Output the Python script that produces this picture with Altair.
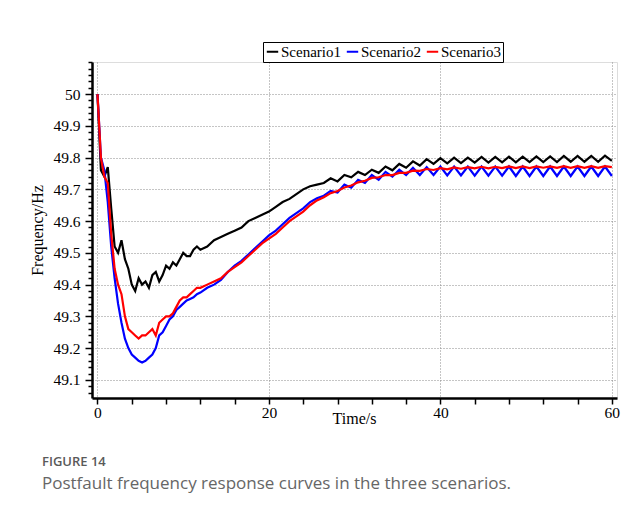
import altair as alt
import pandas as pd

# time axis (s)
time_s = [
    0.0, 0.4, 0.8, 1.2, 1.6, 2.0, 2.4, 2.8, 3.2, 3.6, 4.0, 4.4, 4.8, 5.2, 5.6, 6.0,
    6.4, 6.8, 7.2, 7.6, 8.0, 8.4, 8.8, 9.2, 9.6, 10.0, 10.4, 10.8, 11.2, 11.6, 12.0,
    12.8, 13.6, 14.4, 15.2, 16.0, 16.8, 17.6, 18.4, 19.2, 20.0, 20.8, 21.6, 22.4,
    23.2, 24.0, 24.8, 25.6, 26.4,
    27.2, 28.0, 28.8, 29.6, 30.4, 31.2, 32.0, 32.8, 33.6, 34.4, 35.2, 36.0, 36.8,
    37.6, 38.4, 39.2, 40.0, 40.8, 41.6, 42.4, 43.2, 44.0, 44.8, 45.6, 46.4, 47.2,
    48.0, 48.8, 49.6, 50.4, 51.2, 52.0, 52.8, 53.6, 54.4, 55.2, 56.0, 56.8, 57.6,
    58.4, 59.2, 60.0,
]

scenario1 = [
    50.0, 49.76, 49.74, 49.77, 49.64, 49.52, 49.50, 49.54, 49.48, 49.45, 49.40, 49.38,
    49.42, 49.40, 49.41, 49.39, 49.43, 49.44, 49.41, 49.43, 49.46, 49.45, 49.47, 49.46,
    49.48, 49.50, 49.49, 49.49, 49.51, 49.52, 49.51,
    49.52, 49.54, 49.55, 49.56, 49.57, 49.58, 49.60, 49.61, 49.62, 49.63, 49.645,
    49.66, 49.67, 49.685, 49.70, 49.71, 49.715, 49.72,
    49.735, 49.725, 49.745, 49.738, 49.755, 49.745, 49.762, 49.752, 49.772, 49.76,
    49.78, 49.768, 49.788, 49.775, 49.795, 49.78, 49.798, 49.782, 49.80, 49.783,
    49.80, 49.784, 49.802, 49.784, 49.802, 49.785, 49.803, 49.785, 49.803, 49.786,
    49.804, 49.786, 49.804, 49.786, 49.805, 49.787, 49.805, 49.787, 49.805, 49.787,
    49.806, 49.79,
]

scenario2 = [
    50.0, 49.80, 49.76, 49.66, 49.52, 49.42, 49.34, 49.28, 49.23, 49.20, 49.18, 49.17,
    49.16, 49.155, 49.16, 49.17, 49.18, 49.20, 49.24, 49.25, 49.27, 49.29, 49.30, 49.32,
    49.33, 49.34, 49.35, 49.355, 49.36, 49.37, 49.375,
    49.39, 49.40, 49.415, 49.44, 49.46, 49.475, 49.495, 49.515, 49.535, 49.555, 49.57,
    49.59, 49.61, 49.625, 49.64, 49.66, 49.672, 49.68,
    49.695, 49.69, 49.715, 49.705, 49.73, 49.72, 49.745, 49.73, 49.755, 49.74,
    49.762, 49.745, 49.768, 49.745, 49.77, 49.745, 49.772, 49.744, 49.772, 49.744,
    49.772, 49.743, 49.772, 49.743, 49.772, 49.743, 49.772, 49.742, 49.772, 49.742,
    49.772, 49.742, 49.772, 49.742, 49.772, 49.742, 49.772, 49.742, 49.772, 49.742,
    49.772, 49.742,
]

scenario3 = [
    50.0, 49.80, 49.74, 49.72, 49.56, 49.45, 49.40, 49.37, 49.30, 49.26, 49.25, 49.24,
    49.23, 49.24, 49.24, 49.25, 49.26, 49.24, 49.28, 49.29, 49.30, 49.30, 49.31, 49.33,
    49.35, 49.36, 49.36, 49.37, 49.38, 49.39, 49.39,
    49.40, 49.41, 49.42, 49.44, 49.455, 49.47, 49.49, 49.51, 49.53, 49.545, 49.56,
    49.58, 49.60, 49.615, 49.63, 49.65, 49.665, 49.675,
    49.688, 49.695, 49.706, 49.712, 49.722, 49.727, 49.736, 49.738, 49.745, 49.745,
    49.752, 49.752, 49.759, 49.758, 49.764, 49.761, 49.767, 49.763, 49.769, 49.765,
    49.77, 49.766, 49.771, 49.766, 49.771, 49.767, 49.772, 49.767, 49.772, 49.767,
    49.772, 49.768, 49.772, 49.768, 49.773, 49.768, 49.773, 49.768, 49.773, 49.768,
    49.773, 49.77,
]

series_names = ["Scenario1", "Scenario2", "Scenario3"]
series_colors = ["#000000", "#0000ff", "#ff0000"]

x_ticks = [0, 4, 8, 12, 16, 20, 24, 28, 32, 36, 40, 44, 48, 52, 56, 60]
y_ticks = [round(49.06 + 0.02 * i, 2) for i in range(53)]

rows = []
for name, vals in zip(series_names, [scenario1, scenario2, scenario3]):
    for t, v in zip(time_s, vals):
        rows.append({"t": t, "f": v, "series": name})
df = pd.DataFrame(rows)

serif = "Liberation Serif"

x_axis = alt.Axis(
    values=x_ticks,
    labelExpr="datum.value % 20 == 0 ? datum.value : ''",
    title="Time/s",
    titleFont=serif, titleFontSize=16, titleFontWeight="normal", titleColor="black",
    titleBaseline="top", titleY=12, titleX=262,
    labelFont=serif, labelFontSize=15.5, labelColor="black", labelPadding=1,
    labelFlush=False,
    tickSize=6, tickWidth=1.5, tickColor="black",
    domainColor="black", domainWidth=2.5,
    grid=True, gridColor="#8a8a8a", gridDash=[1, 2], gridWidth=1,
    gridOpacity={"condition": {"test": "datum.value % 20 == 0", "value": 1}, "value": 0},
)

major_test = "abs(datum.value*10 - round(datum.value*10)) < 0.001 && datum.value < 50.05"
y_axis = alt.Axis(
    values=y_ticks,
    labelExpr=f"({major_test}) ? toString(round(datum.value*10)/10) : ''",
    title="Frequency/Hz",
    titleFont=serif, titleFontSize=16, titleFontWeight="normal", titleColor="black",
    titleX=-55, titleY=168, titleBaseline="middle", titleAngle=270,
    labelFont=serif, labelFontSize=15.5, labelColor="black", labelPadding=5,
    labelFlush=False,
    tickWidth=1.5, tickColor="black",
    tickSize={"condition": {"test": major_test, "value": 7}, "value": 4},
    domainColor="black", domainWidth=2.5,
    grid=True, gridColor="#8a8a8a", gridDash=[1, 2], gridWidth=1,
    gridOpacity={"condition": {"test": major_test, "value": 1}, "value": 0},
)

chart = alt.Chart(df).mark_line(strokeWidth=2.2, interpolate="linear").encode(
    x=alt.X("t:Q", scale=alt.Scale(domain=[-0.64, 60.6], nice=False, zero=False), axis=x_axis),
    y=alt.Y("f:Q", scale=alt.Scale(domain=[49.043, 50.101], nice=False, zero=False), axis=y_axis),
    color=alt.Color(
        "series:N",
        scale=alt.Scale(domain=series_names, range=series_colors),
        legend=alt.Legend(
            title=None, orient="none", legendX=171, legendY=-20, direction="horizontal",
            symbolType="stroke", symbolSize=130, symbolStrokeWidth=2,
            labelFont=serif, labelFontSize=15, labelColor="black", labelOffset=1,
            columnPadding=1, padding=2, strokeColor="black",
        ),
    ),
).properties(
    width=525,
    height=336,
    title=alt.TitleParams(
        text="FIGURE 14",
        subtitle="Postfault frequency response curves in the three scenarios.",
        orient="bottom", anchor="start", frame="group", dx=-50, offset=30,
        font="Open Sans", fontSize=13, fontWeight=600, color="#5a5a5a",
        subtitleFont="Open Sans", subtitleFontSize=17, subtitleColor="#666666",
        subtitlePadding=7,
    ),
    autosize=alt.AutoSizeParams(type="none"),
    padding={"left": 84, "top": 54, "right": 5, "bottom": 105},
).configure_view(
    stroke="black", strokeWidth=1.5
).configure(background="white")

chart.save("out.html", embed_options={"renderer": "svg", "actions": False})
